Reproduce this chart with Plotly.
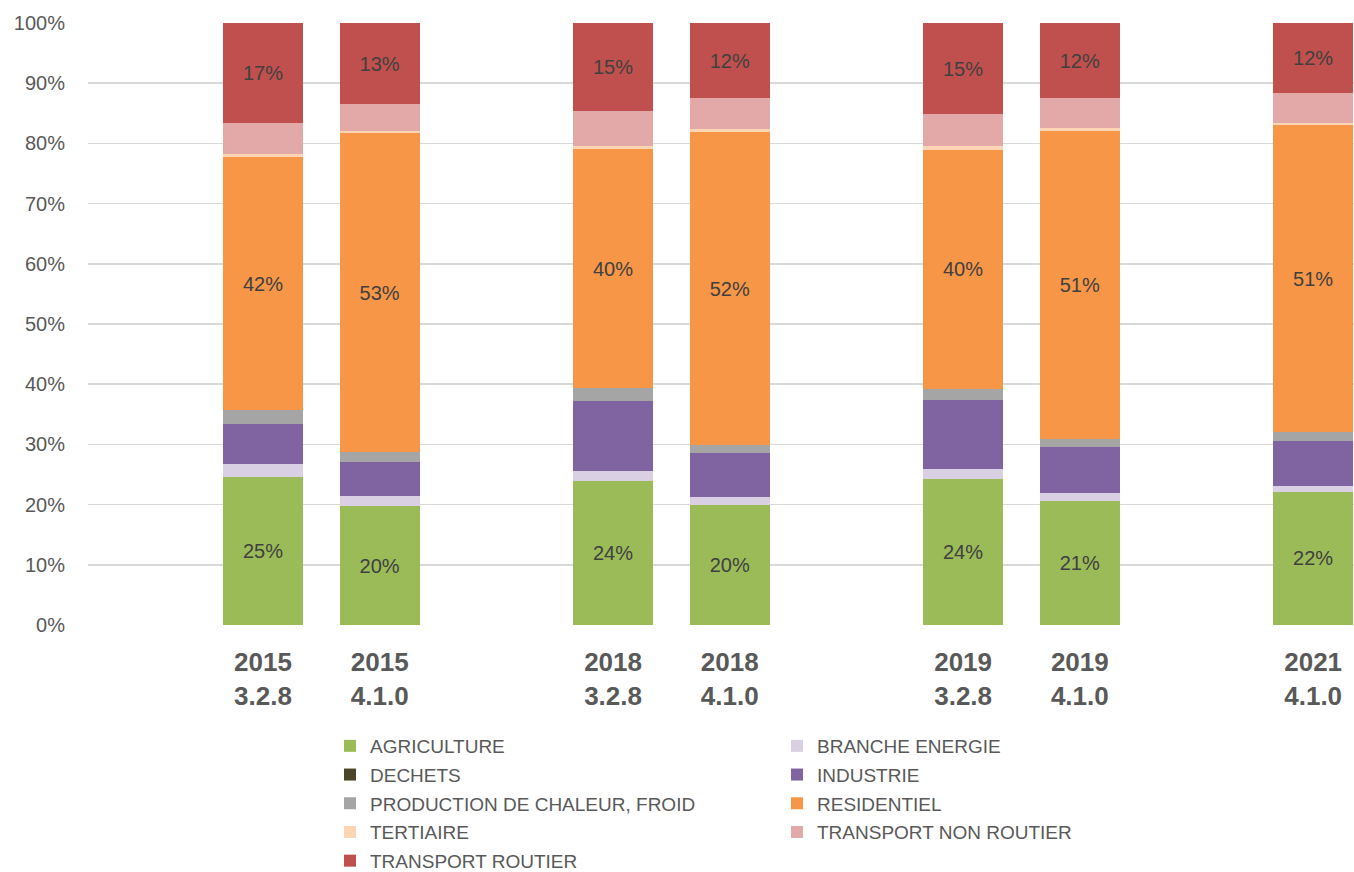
import plotly.graph_objects as go

# ---- data ----
categories = ["2015 3.2.8", "2015 4.1.0", "2018 3.2.8", "2018 4.1.0",
              "2019 3.2.8", "2019 4.1.0", "2021 4.1.0"]
tick_labels = ["<b>2015</b><br><b>3.2.8</b>", "<b>2015</b><br><b>4.1.0</b>",
               "<b>2018</b><br><b>3.2.8</b>", "<b>2018</b><br><b>4.1.0</b>",
               "<b>2019</b><br><b>3.2.8</b>", "<b>2019</b><br><b>4.1.0</b>",
               "<b>2021</b><br><b>4.1.0</b>"]
# empty slots in the category axis (gaps between years)
slot_order = [" ", "2015 3.2.8", "2015 4.1.0", "  ", "2018 3.2.8", "2018 4.1.0",
              "   ", "2019 3.2.8", "2019 4.1.0", "    ", "2021 4.1.0"]

agriculture     = [24.6, 19.7, 24.0, 20.0, 24.3, 20.6, 22.1]
branche_energie = [2.2, 1.7, 1.5, 1.3, 1.6, 1.3, 1.0]
dechets         = [0.02, 0.02, 0.02, 0.02, 0.02, 0.02, 0.02]
industrie       = [6.5, 5.6, 11.7, 7.2, 11.4, 7.6, 7.4]
production      = [2.4, 1.7, 2.1, 1.4, 1.9, 1.3, 1.5]
residentiel     = [42.0, 53.0, 39.7, 51.9, 39.7, 51.2, 51.0]
tertiaire       = [0.5, 0.4, 0.6, 0.5, 0.6, 0.5, 0.3]
transport_nr    = [5.1, 4.5, 5.7, 5.3, 5.4, 5.1, 5.0]
transport_r     = [16.6, 13.3, 14.6, 12.3, 15.0, 12.3, 11.6]

y_ticks = [0, 10, 20, 30, 40, 50, 60, 70, 80, 90, 100]

series = [
    ("AGRICULTURE", agriculture, "#9BBB59", True, "legend"),
    ("BRANCHE ENERGIE", branche_energie, "#D9D0E4", False, "legend2"),
    ("DECHETS", dechets, "#4A452A", False, "legend"),
    ("INDUSTRIE", industrie, "#8064A2", False, "legend2"),
    ("PRODUCTION DE CHALEUR, FROID", production, "#A5A5A5", False, "legend"),
    ("RESIDENTIEL", residentiel, "#F79646", True, "legend2"),
    ("TERTIAIRE", tertiaire, "#FCD5B5", False, "legend"),
    ("TRANSPORT NON ROUTIER", transport_nr, "#E3A9A8", False, "legend2"),
    ("TRANSPORT ROUTIER", transport_r, "#C0504D", True, "legend"),
]

FONT = "Liberation Sans, Arial, sans-serif"

fig = go.Figure()
for name, vals, color, labelled, leg in series:
    fig.add_trace(go.Bar(
        name=name, x=categories, y=vals,
        marker=dict(color=color, line=dict(width=0)),
        legend=leg, legendgroup=name,
        texttemplate="%{y:.0f}%" if labelled else None,
        textposition="inside" if labelled else "none",
        insidetextanchor="middle",
        textangle=0,
        textfont=dict(family=FONT, size=20, color="#404040"),
        hoverinfo="skip",
    ))

plot_l, plot_r, plot_t, plot_b = 88, 1354, 23, 625
W, H = 1354, 872
pw = plot_r - plot_l
ph = plot_b - plot_t

def px_x(x):
    return (x - plot_l) / pw

def px_y(y):
    return (plot_b - y) / ph

legend_common = dict(
    orientation="v", traceorder="grouped", tracegroupgap=1,
    font=dict(family=FONT, size=19, color="#595959"),
    bgcolor="rgba(0,0,0,0)", xanchor="left", yanchor="top",
    itemclick=False, itemdoubleclick=False,
)

fig.update_layout(
    width=W, height=H,
    margin=dict(l=plot_l, r=W - plot_r, t=plot_t, b=H - plot_b, pad=0,
                autoexpand=False),
    paper_bgcolor="white", plot_bgcolor="white",
    barmode="stack", bargap=0.316,
    showlegend=True,
    legend=dict(x=px_x(330), y=px_y(727), **legend_common),
    legend2=dict(x=px_x(777), y=px_y(727), **legend_common),
    xaxis=dict(
        type="category", categoryorder="array", categoryarray=slot_order,
        range=[-0.5, 10.35], automargin=False,
        tickmode="array", tickvals=categories, ticktext=tick_labels,
        tickfont=dict(family=FONT, size=26, color="#595959"),
        showgrid=False, showline=False, zeroline=False, ticks="",
        ticklabelstandoff=19,
    ),
    yaxis=dict(
        range=[0, 100], tickmode="array", tickvals=y_ticks, automargin=False,
        ticktext=[f"{v}%" for v in y_ticks],
        tickfont=dict(family=FONT, size=20, color="#595959"),
        showgrid=True, gridcolor="#D9D9D9", gridwidth=1.5,
        zeroline=False, showline=False, ticks="",
        ticklabelstandoff=22,
    ),
)

fig.write_html("out.html",
               config={"displayModeBar": False, "staticPlot": True},
               post_script="document.body.style.margin='0';"
                           "document.body.style.overflow='hidden';")
